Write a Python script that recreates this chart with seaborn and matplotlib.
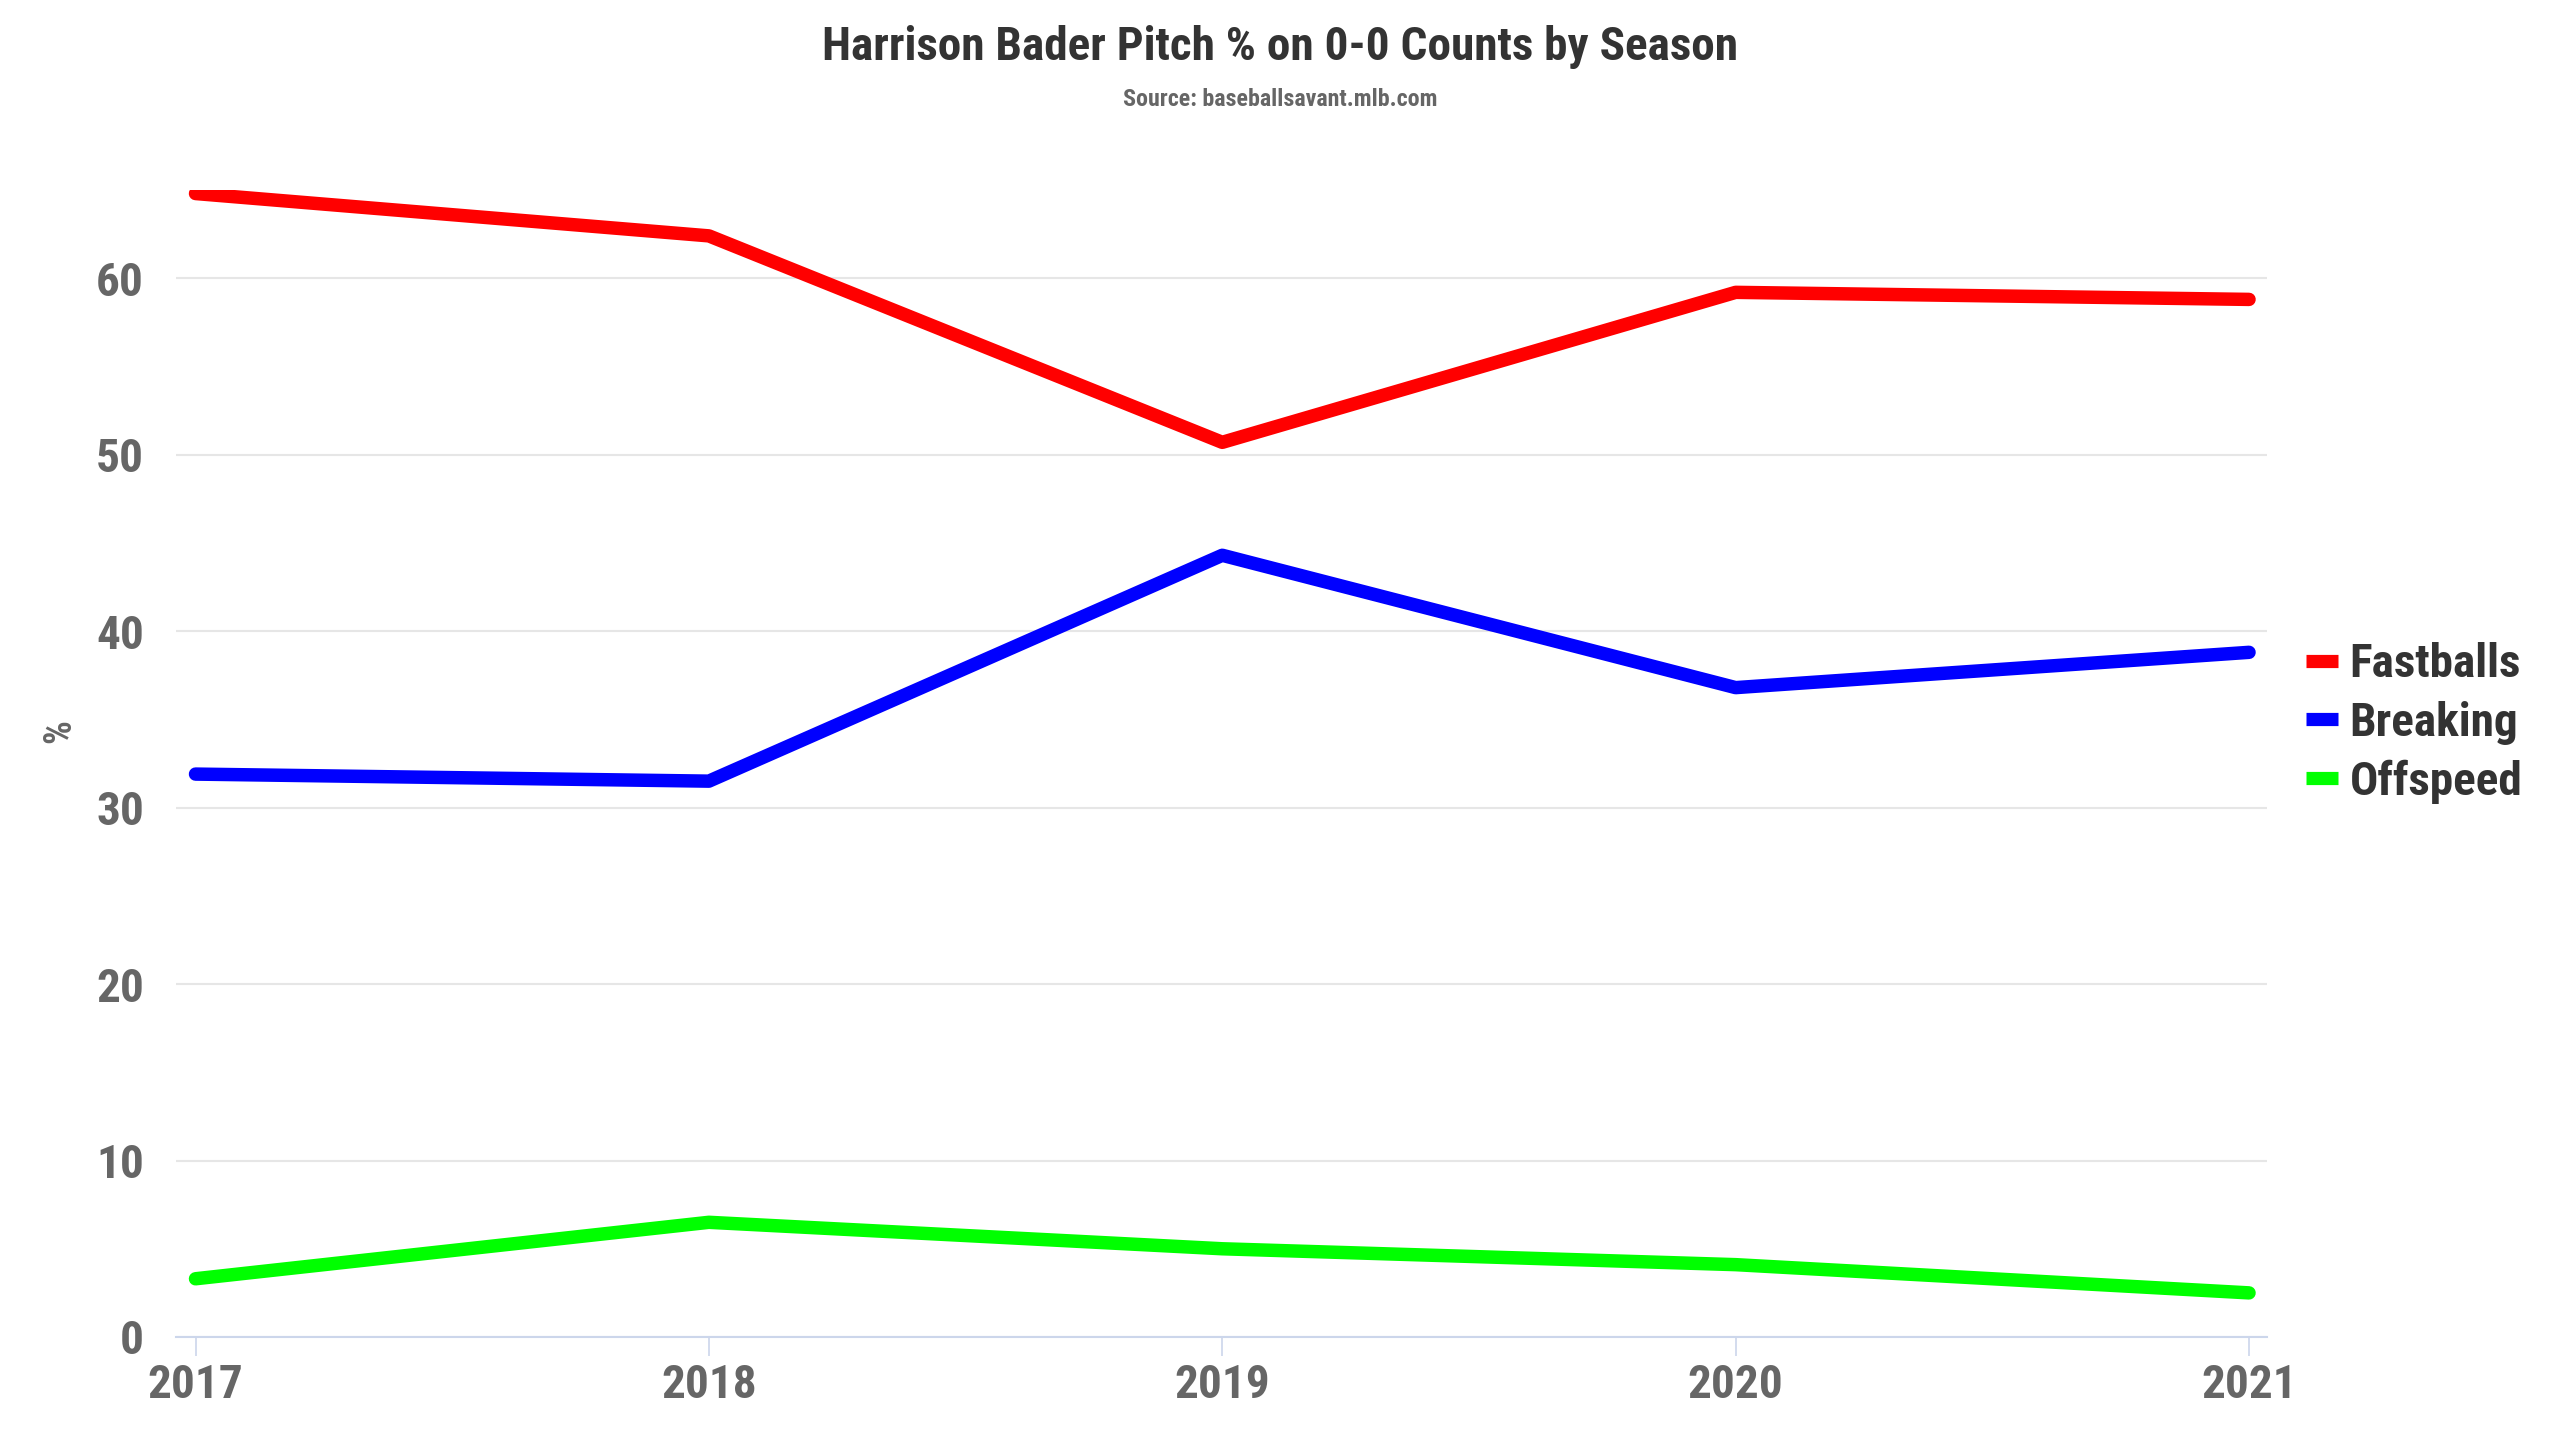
import matplotlib
matplotlib.use("Agg")
import matplotlib.pyplot as plt
from matplotlib import font_manager
import seaborn as sns
import pandas as pd

seasons = [2017, 2018, 2019, 2020, 2021]
fastballs = [64.8, 62.4, 50.7, 59.2, 58.8]
breaking = [31.9, 31.5, 44.3, 36.8, 38.8]
offspeed = [3.3, 6.5, 5.0, 4.1, 2.5]
series_names = ["Fastballs", "Breaking", "Offspeed"]
series_colors = ["#ff0000", "#0000ff", "#00ff00"]
y_ticks = [0, 10, 20, 30, 40, 50, 60]
title_text = "Harrison Bader Pitch % on 0-0 Counts by Season"
subtitle_text = "Source: baseballsavant.mlb.com"
y_label = "%"

df = pd.DataFrame({
    "Season": seasons * 3,
    "Value": fastballs + breaking + offspeed,
    "Type": [series_names[0]] * 5 + [series_names[1]] * 5 + [series_names[2]] * 5,
})

sns.set_theme(style="white")
available = {f.name for f in font_manager.fontManager.ttflist}
fams = [f for f in ["Roboto Condensed", "Liberation Sans Narrow", "Roboto", "DejaVu Sans"] if f in available]
plt.rcParams["font.family"] = fams

fig = plt.figure(figsize=(25.6, 14.4), dpi=100)
ax = fig.add_axes([176 / 2560, 1 - 1337 / 1440, (2267 - 176) / 2560, (1337 - 190) / 1440])

sns.lineplot(data=df, x="Season", y="Value", hue="Type", hue_order=series_names,
             palette=series_colors, linewidth=9.7, ax=ax, legend=False,
             solid_capstyle="round", solid_joinstyle="round")

ax.set_xlim(2016.962, 2021.035)
ax.set_ylim(0, 65)
ax.set_yticks(y_ticks)
ax.set_xticks(seasons)
ax.set_xticklabels([str(s) for s in seasons])
ax.set_xlabel("")
ax.set_ylabel("")
ax.yaxis.grid(True, color="#e6e6e6", linewidth=1.5)
ax.xaxis.grid(False)
for s in ["top", "right", "left"]:
    ax.spines[s].set_visible(False)
ax.spines["bottom"].set_color("#ccd6eb")
ax.spines["bottom"].set_linewidth(1.5)
ax.tick_params(axis="x", colors="#666666", length=14, width=1.2, pad=5,
               labelsize=34, bottom=True, color="#ccd6eb")
ax.tick_params(axis="y", colors="#666666", length=0, pad=23, labelsize=34)
for lab in ax.get_xticklabels() + ax.get_yticklabels():
    lab.set_fontweight("bold")
    lab.set_color("#666666")

fig.text(0.5, 1 - 47 / 1440, title_text, ha="center", va="center",
         fontsize=34, fontweight="bold", color="#333333")
fig.text(0.5, 1 - 99 / 1440, subtitle_text, ha="center", va="center",
         fontsize=17.3, fontweight="bold", color="#666666")
fig.text(60 / 2560, 1 - 731 / 1440, y_label, ha="center", va="center",
         rotation=90, fontsize=27, fontweight="bold", color="#666666")

handles = [plt.Line2D([0], [0], color=c, linewidth=9.5, solid_capstyle="butt") for c in series_colors]
leg = fig.legend(handles, series_names, loc="center left",
                 bbox_to_anchor=(2306 / 2560, 1 - 723 / 1440), frameon=False,
                 fontsize=34, handlelength=0.68, handletextpad=0.24,
                 labelspacing=0.31, borderpad=0, borderaxespad=0)
for t in leg.get_texts():
    t.set_fontweight("bold")
    t.set_color("#333333")

fig.savefig("out.png", dpi=100, facecolor="white")
